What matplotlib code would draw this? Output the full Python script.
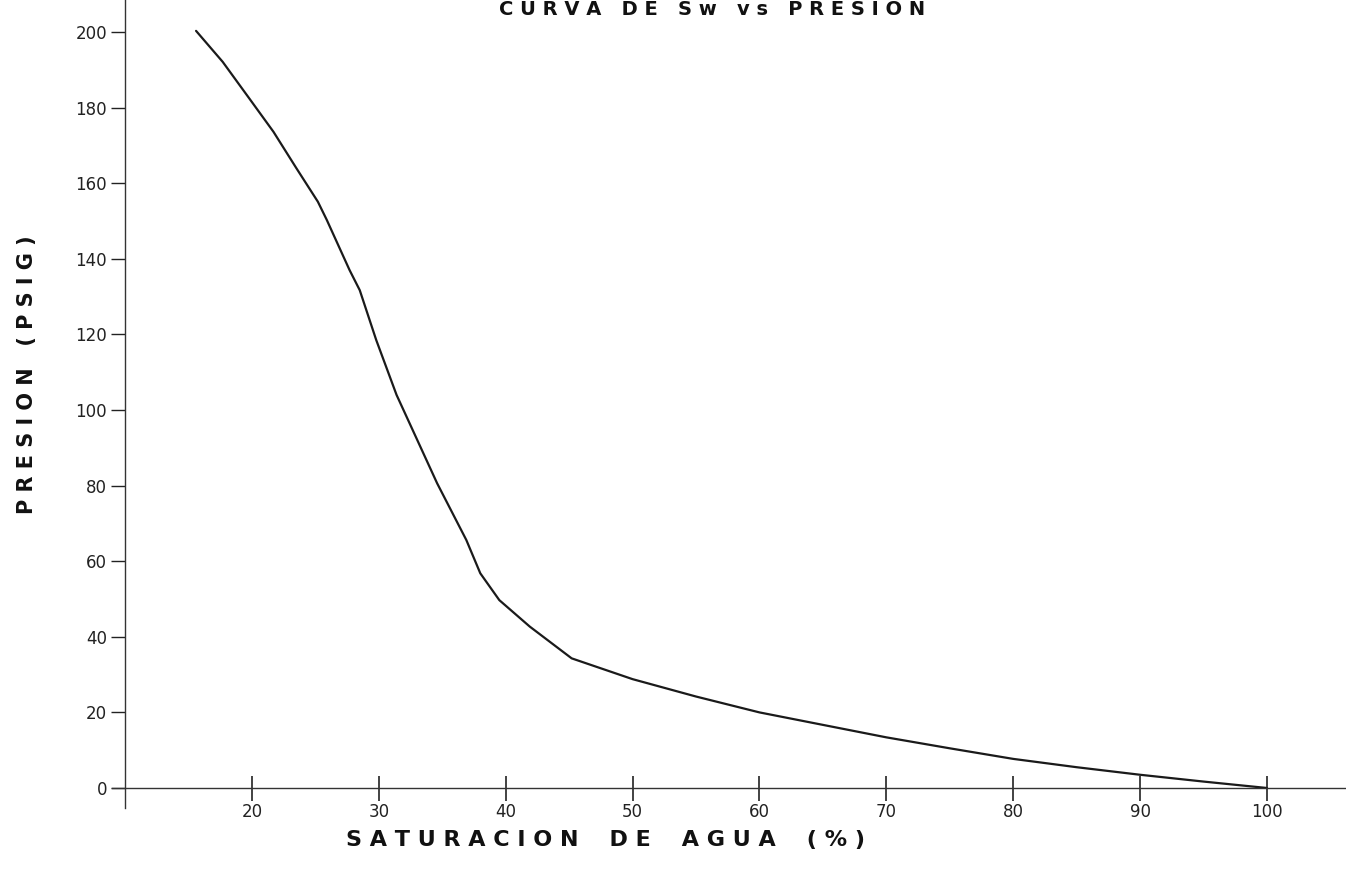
import matplotlib
matplotlib.use("Agg")
import matplotlib.pyplot as plt

# Datos (saturación de agua % vs presión psig)
sw = [15.6, 17.7, 19.8, 21.7, 23.5, 25.2, 25.9, 27.7, 28.5, 29.8, 31.4, 32.7,
      34.6, 36.9, 38.0, 39.5, 41.9, 45.2, 50, 55, 60, 65, 70, 75, 80,
      85, 90, 95, 100]
presion = [200.3, 192.1, 182.4, 173.6, 164, 155.1, 150.3, 137, 131.7, 118.5,
           104, 94.5, 80.6, 65.6, 56.8, 49.7, 42.7, 34.3, 28.8, 24.2, 20,
           16.7, 13.4, 10.5, 7.7, 5.5, 3.5, 1.7, 0]

xticks = [20, 30, 40, 50, 60, 70, 80, 90, 100]
yticks = [0, 20, 40, 60, 80, 100, 120, 140, 160, 180, 200]

W, H = 1346, 875
fig = plt.figure(figsize=(W / 100, H / 100), dpi=100)

# ejes ubicados en pixeles de la imagen original
px_x, px_y = 12.69, 3.78
left_px, bottom_px = 112, 808
ax = fig.add_axes([left_px / W, (H - bottom_px) / H, (W - left_px) / W, bottom_px / H])
ax.set_xlim(10 - (125 - left_px) / px_x, 100 + (W - 1267) / px_x)
ax.set_ylim((788 - bottom_px) / px_y, 788 / px_y)

ax.plot(sw, presion, color="#1a1a1a", lw=1.6, solid_capstyle="round",
        solid_joinstyle="round")

for s in ["top", "right"]:
    ax.spines[s].set_visible(False)
ax.spines["left"].set_position(("data", 10))
ax.spines["bottom"].set_position(("data", 0))
for s in ["left", "bottom"]:
    ax.spines[s].set_color("#333333")
    ax.spines[s].set_linewidth(1.0)

ax.set_xticks(xticks)
ax.set_yticks(yticks)
ax.tick_params(axis="x", direction="inout", length=18, width=1.2, pad=2,
               labelsize=12, colors="#222222")
ax.tick_params(axis="y", direction="out", length=10, width=1.0, pad=3,
               labelsize=12, colors="#222222")

fig.text(27 / W, 1 - 375 / H, "P R E S I O N   ( P S I G )", rotation=90,
         ha="center", va="center", fontsize=15, fontweight="bold", color="#111111")
fig.text(605 / W, 1 - 840 / H, "S A T U R A C I O N    D E    A G U A    ( % )",
         ha="center", va="center", fontsize=16, fontweight="bold", color="#111111")
fig.text(712 / W, 1.0, "C U R V A   D E   S w   v s   P R E S I O N",
         ha="center", va="top", fontsize=14, fontweight="bold", color="#111111")

fig.savefig("out.png", dpi=100)
